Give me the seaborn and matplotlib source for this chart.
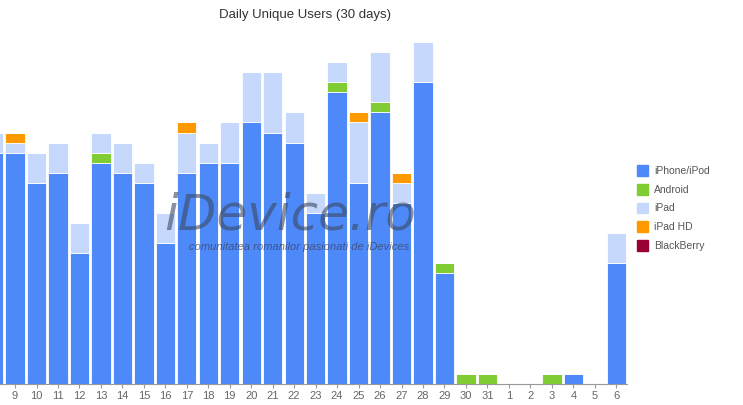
import matplotlib
matplotlib.use('Agg')

import matplotlib.pyplot as plt
import matplotlib.patches as mpatches
import seaborn as sns
import pandas as pd
import numpy as np

days = ['8', '9', '10', '11', '12', '13', '14', '15', '16', '17', '18', '19', '20',
        '21', '22', '23', '24', '25', '26', '27', '28', '29', '30', '31',
        '1', '2', '3', '4', '5', '6']
iphone = [23, 23, 20, 21, 13, 22, 21, 20, 14, 21, 22, 22, 26,
          25, 24, 17, 29, 20, 27, 18, 30, 11, 0, 0, 0, 0, 0, 1, 0, 12]
android = [0, 0, 0, 0, 0, 1, 0, 0, 0, 0, 0, 0, 0,
           0, 0, 0, 1, 0, 1, 0, 0, 1, 1, 1, 0, 0, 1, 0, 0, 0]
ipad = [2, 1, 3, 3, 3, 2, 3, 2, 3, 4, 2, 4, 5,
        6, 3, 2, 2, 6, 5, 2, 4, 0, 0, 0, 0, 0, 0, 0, 0, 3]
ipad_hd = [0, 1, 0, 0, 0, 0, 0, 0, 0, 1, 0, 0, 0,
           0, 0, 0, 0, 1, 0, 1, 0, 0, 0, 0, 0, 0, 0, 0, 0, 0]
blackberry = [0] * len(days)

series = ['iPhone/iPod', 'Android', 'iPad', 'iPad HD', 'BlackBerry']
colors = ['#4d89f9', '#80cc33', '#c6d9fd', '#ff9900', '#990033']

df = pd.DataFrame({'day': days, 'iPhone/iPod': iphone, 'Android': android,
                   'iPad': ipad, 'iPad HD': ipad_hd, 'BlackBerry': blackberry})

sns.set_style('white')
plt.rcParams['font.family'] = ['Liberation Sans', 'DejaVu Sans']

fig = plt.figure(figsize=(7.43, 4.05), dpi=100)
ax = fig.add_axes([0, 21 / 405, 627 / 743, 342 / 405])

bottom = np.zeros(len(days))
for name, col in zip(series, colors):
    vals = df[name].values
    sns.barplot(x=df['day'], y=vals, order=days, color=col, bottom=bottom,
                width=0.9, edgecolor='white', linewidth=0.6, ax=ax,
                saturation=1)
    bottom = bottom + vals

ax.set_xlim(0.30, 29.5)
ax.set_ylim(0, 34)
ax.set_xlabel('')
ax.set_ylabel('')
ax.set_yticks([])
for s in ['top', 'right', 'left']:
    ax.spines[s].set_visible(False)
ax.spines['bottom'].set_color('#999999')
ax.spines['bottom'].set_linewidth(0.8)
ax.tick_params(axis='x', colors='#999999', labelcolor='#666666', labelsize=8,
               length=3, width=0.8, pad=2, bottom=True)

fig.text(305 / 743, 1 - 15 / 405, 'Daily Unique Users (30 days)', ha='center',
         va='center', fontsize=9.5, color='#333333')

# watermark
fig.text(290 / 743, 1 - 216 / 405, 'iDevice.ro', ha='center', va='center',
         fontsize=36, style='italic', color='#3c4860', alpha=0.6,
         family=['DejaVu Sans'])
fig.text(299 / 743, 1 - 247 / 405, 'comunitatea romanilor pasionati de iDevices',
         ha='center', va='center', fontsize=8, style='italic',
         color='#3a3f55', alpha=0.7)

handles = [mpatches.Patch(color=c, label=n) for n, c in zip(series, colors)]
leg = fig.legend(handles=handles, loc='center left',
                 bbox_to_anchor=(628 / 743, 1 - 208 / 405), frameon=False,
                 fontsize=7.5, handlelength=1.0, handleheight=1.2,
                 handletextpad=0.6, labelspacing=0.75)
for t in leg.get_texts():
    t.set_color('#555555')

plt.savefig('out.png', dpi=100)
